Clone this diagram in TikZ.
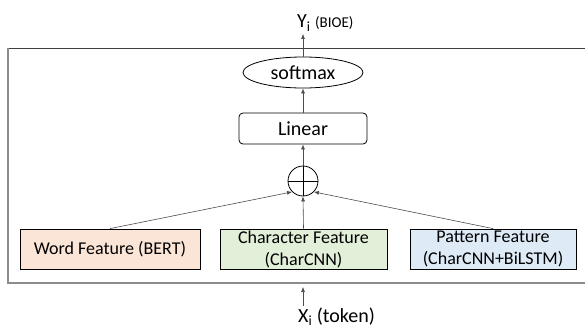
\documentclass[tikz,border=0pt]{standalone}
\usepackage{fontspec}
\setmainfont{Carlito}
\usetikzlibrary{shapes.geometric,arrows.meta}
\definecolor{wordfill}{HTML}{FBE5D6}
\definecolor{charfill}{HTML}{E2F0D9}
\definecolor{pattfill}{HTML}{DEEBF7}
\tikzset{
  feat/.style={draw, line width=0.8pt, minimum height=40pt, inner sep=0pt, align=center, font=\fontsize{18}{22}\selectfont},
  layer/.style={draw, line width=0.8pt, minimum height=31pt, inner sep=0pt, font=\fontsize{20}{24}\selectfont},
  arr/.style={-{Latex[length=5pt,width=4pt]}, line width=0.6pt, draw=black!70},
}
\begin{document}
\begin{tikzpicture}[x=1pt,y=-1pt]
\useasboundingbox (0,0) rectangle (585,329);
\def \Axis {303};

% le cadre
\draw[black!75, line width=0.8pt] (8,48) -- (590,48);
\draw[black!45, line width=1.2pt] (8,48) -- (8,283) -- (590,283);

% les couches
\node[layer, ellipse, minimum width=120pt] (soft) at (\Axis,72.5) {softmax};
\node[layer, rounded corners=4pt, minimum width=128pt] (lin) at (\Axis,128.5) {Linear};
\node[draw, circle, line width=0.8pt, minimum size=30pt, inner sep=0pt] (plus) at (\Axis,181) {};
\draw[line width=0.8pt] (plus.north) -- (plus.south) (plus.west) -- (plus.east);

% les features
\node[feat, fill=wordfill, minimum width=180pt] (word) at (110,249) {Word Feature (BERT)};
\node[feat, fill=charfill, minimum width=167pt] (char) at (303.5,249) {Character Feature\\(CharCNN)};
\node[feat, fill=pattfill, minimum width=166pt] (patt) at (493,249) {Pattern Feature\\(CharCNN+BiLSTM)};

% entree et sortie
\node[anchor=base west, inner sep=0pt, font=\fontsize{20}{24}\selectfont] (ylab) at (297,28) {Y\textsubscript{i} {\fontsize{15}{18}\selectfont (BIOE)}};
\node[anchor=base west, inner sep=0pt, font=\fontsize{20}{24}\selectfont] (xlab) at (298,322) {X\textsubscript{i} (token)};
\coordinate (ytip) at (\Axis,34);
\coordinate (xtail) at (\Axis,306);
\coordinate (xtip) at (\Axis,287);

% les fleches
\draw[arr] (xtail) -- (xtip);
\draw[arr] (word.north) -- (plus.south west);
\draw[arr] (char.north) -- (plus.south);
\draw[arr] (patt.north) -- (plus.south east);
\draw[arr] (plus.north) -- (lin.south);
\draw[arr] (lin.north) -- (soft.south);
\draw[arr] (soft.north) -- (ytip);
\end{tikzpicture}
\end{document}
